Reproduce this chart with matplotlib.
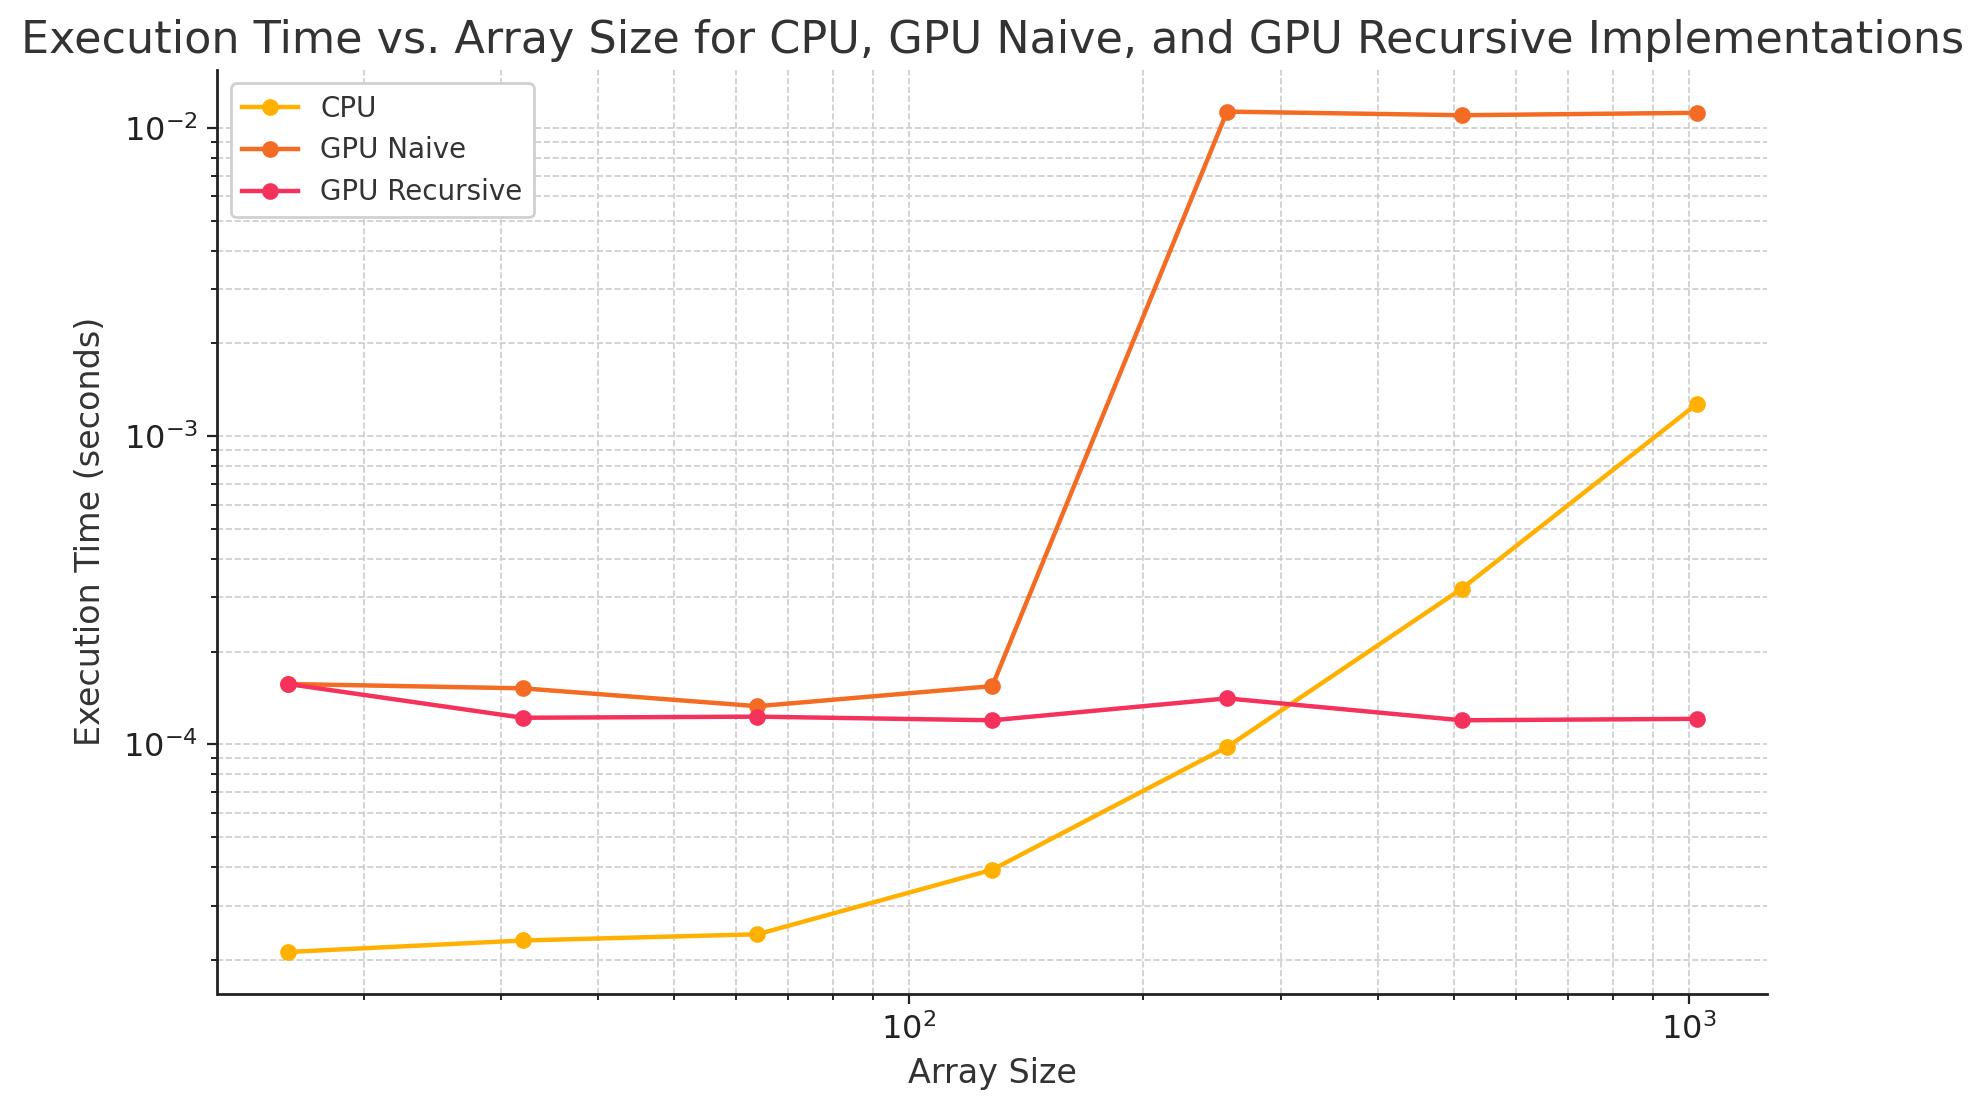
import matplotlib
matplotlib.use("Agg")
import matplotlib.pyplot as plt

# Rozmiary tablic i czasy wykonania
rozmiary = [16, 32, 64, 128, 256, 512, 1024]
czas_cpu = [2.12e-5, 2.31e-5, 2.42e-5, 3.92e-5, 9.8e-5, 3.2e-4, 1.27e-3]
czas_gpu_naive = [1.57e-4, 1.52e-4, 1.33e-4, 1.545e-4, 1.13e-2, 1.10e-2, 1.12e-2]
czas_gpu_rek = [1.57e-4, 1.22e-4, 1.23e-4, 1.197e-4, 1.41e-4, 1.197e-4, 1.21e-4]

kolor_tekstu = "#333333"

fig = plt.figure(figsize=(1983 / 200, 1103 / 200), dpi=200)
ax = fig.add_axes([217.5 / 1983, 1 - 994 / 1103, (1767 - 217.5) / 1983, (994 - 69.6) / 1103])

ax.plot(rozmiary, czas_cpu, marker='o', color='#ffb000', label='CPU', lw=1.6, ms=5)
ax.plot(rozmiary, czas_gpu_naive, marker='o', color='#f46b23', label='GPU Naive', lw=1.6, ms=5)
ax.plot(rozmiary, czas_gpu_rek, marker='o', color='#f5325b', label='GPU Recursive', lw=1.6, ms=5)

ax.set_xscale('log')
ax.set_yscale('log')
ax.grid(True, which='both', linestyle='--', color='#cccccc', linewidth=0.6)
ax.set_axisbelow(True)

for s in ['top', 'right']:
    ax.spines[s].set_visible(False)
for s in ['left', 'bottom']:
    ax.spines[s].set_color('#222222')
    ax.spines[s].set_linewidth(1.0)

ax.tick_params(labelsize=11.5, colors='#222222')
ax.set_title("Execution Time vs. Array Size for CPU, GPU Naive, and GPU Recursive Implementations",
             fontsize=16, color=kolor_tekstu)
ax.set_xlabel("Array Size", fontsize=12, color=kolor_tekstu)
ax.set_ylabel("Execution Time (seconds)", fontsize=12, color=kolor_tekstu, labelpad=6)

leg = ax.legend(loc='upper left', fontsize=10, framealpha=1, edgecolor='#d0d0d0')
for t in leg.get_texts():
    t.set_color(kolor_tekstu)

fig.savefig("out.png", dpi=200)
